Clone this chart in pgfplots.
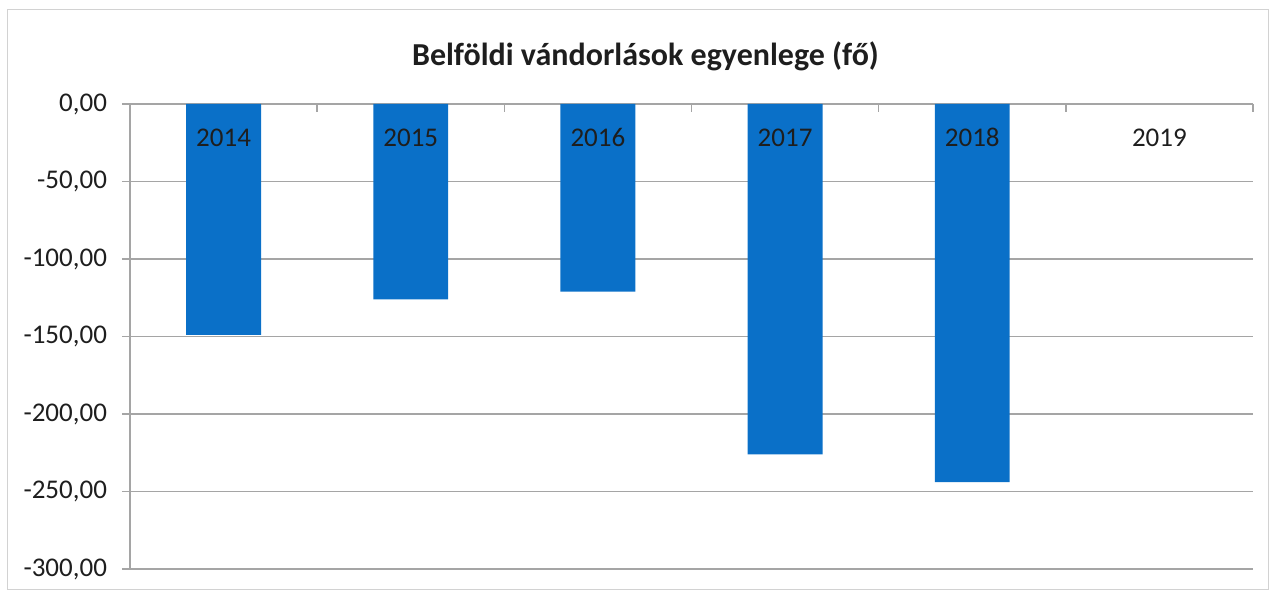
\documentclass[border=0pt]{standalone}
\usepackage{pgfplots}
\pgfplotsset{compat=1.18}
\usepackage{fontspec}
\setmainfont{Carlito}
\definecolor{barblue}{RGB}{10,112,200}
\definecolor{gridgray}{RGB}{165,165,165}
\definecolor{txt}{RGB}{30,30,30}
\begin{document}
\begin{tikzpicture}
\begin{axis}[
  scale only axis, width=561.5pt, height=232.5pt,
  xmin=-0.5, xmax=5.5, ymin=-300, ymax=0,
  clip=false,
  axis x line*=top, axis y line*=left,
  axis line style={gridgray, line width=0.8pt},
  ytick={-300,-250,...,0},
  yticklabels={{-300,00},{-250,00},{-200,00},{-150,00},{-100,00},{-50,00},{0,00}},
  ymajorgrids, grid style={gridgray, line width=0.8pt},
  xtick={0,...,5},
  xticklabels={},
  minor xtick={-0.5,0.5,...,5.5},
  tick align=outside,
  major tick length=4pt, minor tick length=4pt,
  major x tick style={draw=none},
  minor x tick style={gridgray, line width=0.8pt, yshift=-4pt},
  y tick style={gridgray, line width=0.8pt},
  tick label style={font=\fontsize{13.5pt}{16pt}\selectfont, text=txt},
  yticklabel style={xshift=-4pt},
  title={Belföldi vándorlások egyenlege (fő)},
  title style={font=\fontsize{16pt}{19pt}\selectfont\bfseries, text=txt, at={(0.459,1)}, anchor=center, yshift=18pt},
]
\addplot[ybar, bar width=0.4, fill=barblue, draw=none] coordinates {(0,-149) (1,-126) (2,-121) (3,-226) (4,-244)};
\addplot[draw=none, mark=none, nodes near coords, point meta=explicit symbolic,
  every node near coord/.append style={anchor=center, yshift=-17pt, text height=9pt, text depth=0pt, inner sep=0pt, font=\fontsize{13.5pt}{16pt}\selectfont, text=txt}]
  coordinates {(0,0) [2014] (1,0) [2015] (2,0) [2016] (3,0) [2017] (4,0) [2018] (5,0) [2019]};
\end{axis}
\path ([shift={(-65pt,-12.5pt)}]current axis.south west) rectangle ([shift={(572pt,284.5pt)}]current axis.south west);
\draw[gray!35, line width=0.5pt] ([shift={(-61pt,-10pt)}]current axis.south west) rectangle ([shift={(569pt,279.5pt)}]current axis.south west);
\end{tikzpicture}
\end{document}
